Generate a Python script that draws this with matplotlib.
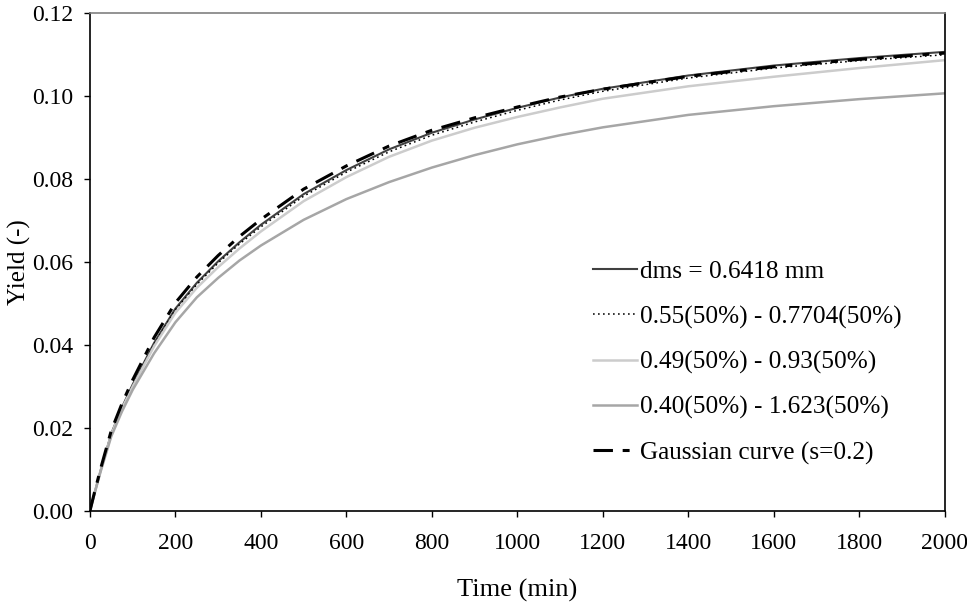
import matplotlib
matplotlib.use("Agg")
import matplotlib.pyplot as plt
from matplotlib.ticker import FormatStrFormatter, MultipleLocator

plt.rcParams["font.family"] = ["Liberation Serif", "DejaVu Serif"]
plt.rcParams["lines.scale_dashes"] = False

# time (min)
time = [0, 10, 25, 50, 75, 100, 150, 200, 250, 300, 350, 400, 500, 600, 700, 800, 900,
        1000, 1100, 1200, 1400, 1600, 1800, 2000]

# yield curves
dms = [0, 0.0040, 0.0098, 0.0187, 0.0250, 0.0305, 0.0405, 0.0488, 0.0550, 0.0602, 0.0648,
       0.0690, 0.0764, 0.0822, 0.0872, 0.0912, 0.0944, 0.0972, 0.0997, 0.1018, 0.1050,
       0.1074, 0.1092, 0.1107]
mix_055_077 = [0, 0.0040, 0.0098, 0.0186, 0.0249, 0.0303, 0.0402, 0.0485, 0.0546, 0.0598,
               0.0644, 0.0685, 0.0759, 0.0817, 0.0866, 0.0906, 0.0938, 0.0966, 0.0991,
               0.1012, 0.1044, 0.1068, 0.1086, 0.1100]
mix_049_093 = [0, 0.0040, 0.0097, 0.0185, 0.0247, 0.0300, 0.0397, 0.0478, 0.0538, 0.0588,
               0.0633, 0.0674, 0.0747, 0.0805, 0.0854, 0.0893, 0.0924, 0.0950, 0.0973,
               0.0994, 0.1024, 0.1047, 0.1068, 0.1087]
mix_040_162 = [0, 0.0039, 0.0095, 0.0180, 0.0240, 0.0292, 0.0380, 0.0455, 0.0515, 0.0562,
               0.0604, 0.0640, 0.0702, 0.0752, 0.0793, 0.0828, 0.0858, 0.0884, 0.0906,
               0.0925, 0.0955, 0.0976, 0.0993, 0.1007]
gaussian = [0, 0.0042, 0.0102, 0.0194, 0.0259, 0.0316, 0.0418, 0.0502, 0.0564, 0.0616,
            0.0662, 0.0703, 0.0776, 0.0832, 0.0880, 0.0918, 0.0948, 0.0974, 0.0998,
            0.1017, 0.1048, 0.1071, 0.1089, 0.1104]

labels = ["dms = 0.6418 mm", "0.55(50%) - 0.7704(50%)", "0.49(50%) - 0.93(50%)",
          "0.40(50%) - 1.623(50%)", "Gaussian curve (s=0.2)"]

fig = plt.figure(figsize=(9.67, 6.04), dpi=100)
ax = fig.add_axes([0.093, 0.154, 0.884, 0.824])

ax.plot(time, dms, color="#404040", lw=1.5, label=labels[0])
ax.plot(time, mix_055_077, color="black", lw=1.1, linestyle=(0, (1.2, 2.4)), label=labels[1])
ax.plot(time, mix_049_093, color="#cccccc", lw=1.8, label=labels[2])
ax.plot(time, mix_040_162, color="#a6a6a6", lw=1.8, label=labels[3])
ax.plot(time, gaussian, color="black", lw=2.2, linestyle=(0, (14, 7, 5, 7)), label=labels[4])

ax.set_xlim(0, 2000)
ax.set_ylim(0, 0.12)
ax.xaxis.set_major_locator(MultipleLocator(200))
ax.yaxis.set_major_locator(MultipleLocator(0.02))
ax.yaxis.set_major_formatter(FormatStrFormatter("%.2f"))
ax.tick_params(direction="out", length=4, width=1, labelsize=17, pad=8)
ax.tick_params(axis="x", pad=12)

for side in ["left", "bottom", "right"]:
    ax.spines[side].set_color("black")
    ax.spines[side].set_linewidth(1.2)
ax.spines["top"].set_color("#808080")
ax.spines["top"].set_linewidth(1.2)

ax.set_xlabel("Time (min)", fontsize=19, labelpad=18)
ax.set_ylabel("Yield (-)", fontsize=18, labelpad=1)

ax.legend(loc="upper left", bbox_to_anchor=(0.5614, 0.549), frameon=False, fontsize=18.2,
          handlelength=1.75, handletextpad=0.12, labelspacing=0.88, borderpad=0.4)

plt.savefig("out.png", dpi=100)
